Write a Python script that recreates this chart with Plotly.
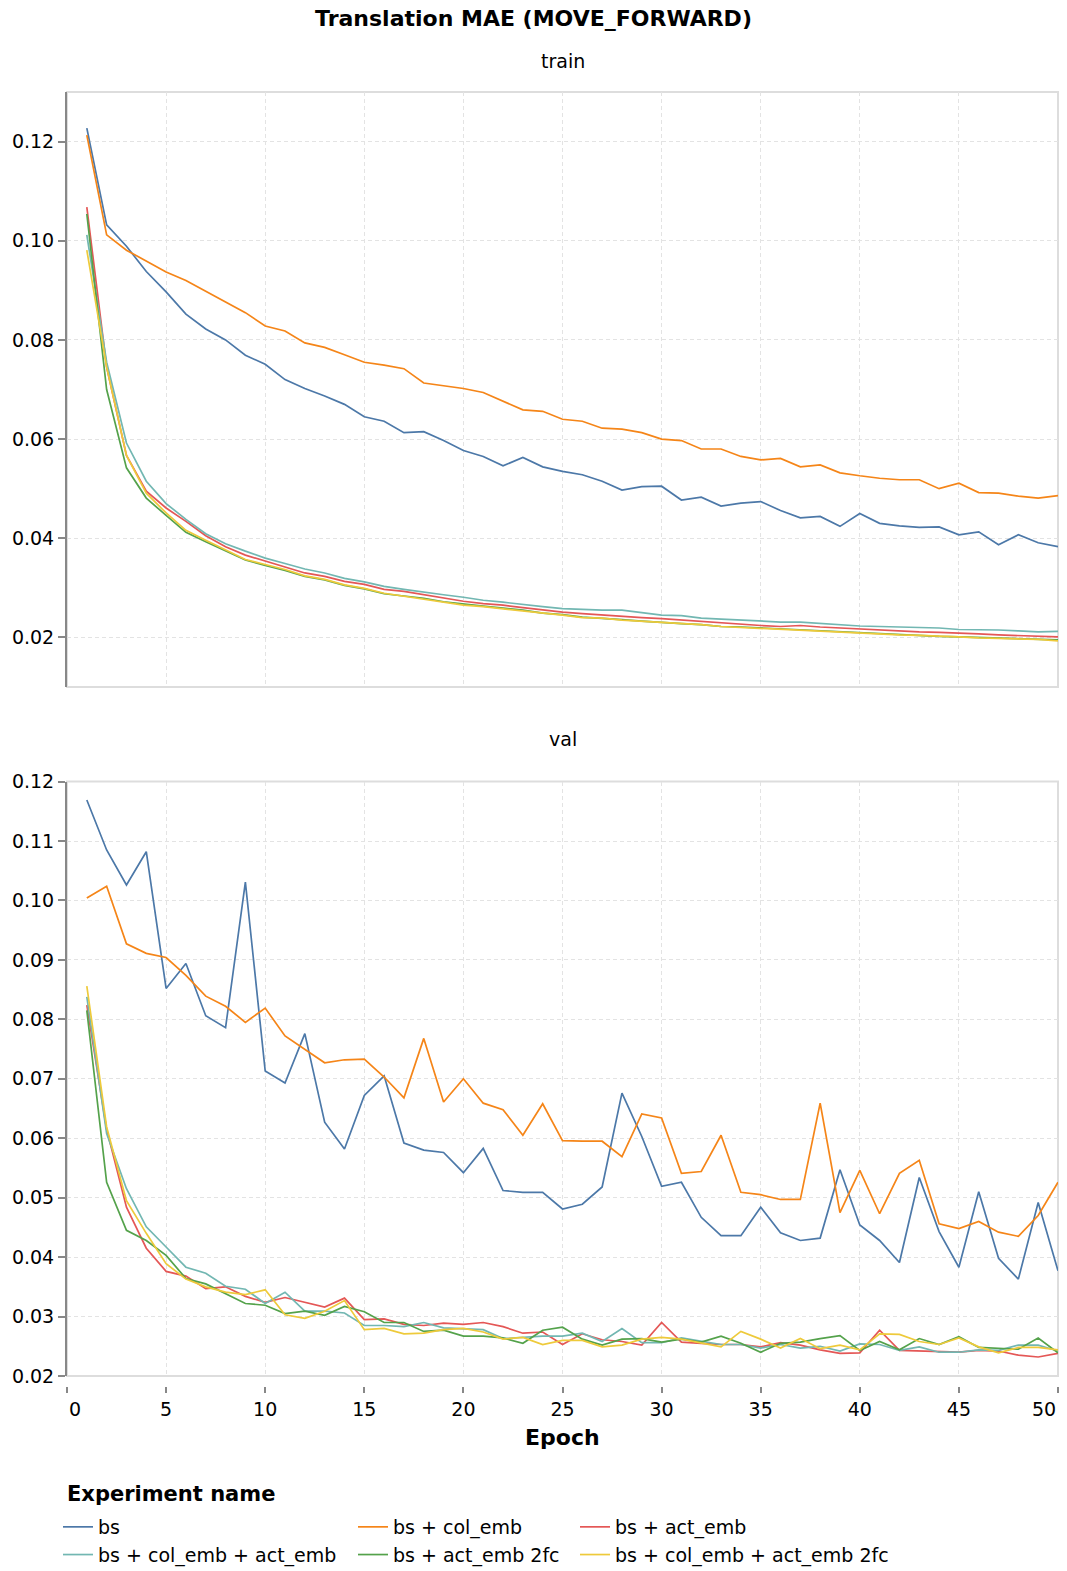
import plotly.graph_objects as go

# ---- data -------------------------------------------------------------
epochs = list(range(1, 51))

experiment_names = [
    "bs",
    "bs + col_emb",
    "bs + act_emb",
    "bs + col_emb + act_emb",
    "bs + act_emb 2fc",
    "bs + col_emb + act_emb 2fc",
]
colors = ["#4c78a8", "#f58518", "#e45756", "#72b7b2", "#54a24b", "#eeca3b"]

epoch_ticks = [0, 5, 10, 15, 20, 25, 30, 35, 40, 45, 50]

train_bs = [0.1227, 0.1032, 0.0989, 0.0938, 0.0897, 0.0852, 0.0822, 0.0800, 0.0769, 0.0751,
            0.0720, 0.0702, 0.0687, 0.0670, 0.0645, 0.0636, 0.0613, 0.0615, 0.0597, 0.0577,
            0.0565, 0.0546, 0.0563, 0.0544, 0.0535, 0.0528, 0.0515, 0.0497, 0.0504, 0.0505,
            0.0477, 0.0483, 0.0465, 0.0471, 0.0474, 0.0456, 0.0441, 0.0444, 0.0424, 0.0450,
            0.0430, 0.0425, 0.0422, 0.0423, 0.0407, 0.0413, 0.0387, 0.0407, 0.0391, 0.0383]
train_col_emb = [0.1213, 0.1012, 0.0981, 0.0959, 0.0937, 0.0920, 0.0898, 0.0877, 0.0855, 0.0828,
                 0.0818, 0.0794, 0.0785, 0.0770, 0.0755, 0.0749, 0.0742, 0.0713, 0.0708, 0.0702,
                 0.0694, 0.0676, 0.0659, 0.0656, 0.0640, 0.0636, 0.0622, 0.0620, 0.0613, 0.0600,
                 0.0597, 0.0580, 0.0580, 0.0565, 0.0558, 0.0561, 0.0544, 0.0548, 0.0532, 0.0526,
                 0.0521, 0.0518, 0.0518, 0.0500, 0.0511, 0.0492, 0.0491, 0.0485, 0.0481, 0.0486]
train_act_emb = [0.1068, 0.0745, 0.0567, 0.0495, 0.0461, 0.0434, 0.0405, 0.0383, 0.0366, 0.0354,
                 0.0342, 0.0330, 0.0323, 0.0313, 0.0307, 0.0297, 0.0293, 0.0286, 0.0279, 0.0273,
                 0.0268, 0.0265, 0.0260, 0.0255, 0.0251, 0.0248, 0.0245, 0.0242, 0.0240, 0.0238,
                 0.0235, 0.0232, 0.0230, 0.0227, 0.0224, 0.0222, 0.0224, 0.0221, 0.0219, 0.0216,
                 0.0215, 0.0213, 0.0211, 0.0210, 0.0209, 0.0207, 0.0205, 0.0204, 0.0203, 0.0201]
train_col_act = [0.1012, 0.0755, 0.0592, 0.0515, 0.0470, 0.0438, 0.0409, 0.0389, 0.0374, 0.0360,
                 0.0349, 0.0338, 0.0330, 0.0319, 0.0312, 0.0303, 0.0297, 0.0291, 0.0286, 0.0281,
                 0.0275, 0.0271, 0.0266, 0.0262, 0.0258, 0.0256, 0.0255, 0.0255, 0.0250, 0.0245,
                 0.0244, 0.0239, 0.0237, 0.0235, 0.0233, 0.0231, 0.0231, 0.0228, 0.0226, 0.0223,
                 0.0222, 0.0221, 0.0219, 0.0219, 0.0216, 0.0216, 0.0215, 0.0213, 0.0211, 0.0212]
train_act_2fc = [0.1054, 0.0700, 0.0542, 0.0481, 0.0446, 0.0412, 0.0393, 0.0375, 0.0356, 0.0345,
                 0.0335, 0.0323, 0.0316, 0.0305, 0.0298, 0.0288, 0.0283, 0.0279, 0.0272, 0.0267,
                 0.0263, 0.0259, 0.0255, 0.0249, 0.0246, 0.0241, 0.0239, 0.0236, 0.0233, 0.0230,
                 0.0228, 0.0226, 0.0222, 0.0221, 0.0219, 0.0217, 0.0215, 0.0214, 0.0212, 0.0210,
                 0.0208, 0.0206, 0.0203, 0.0202, 0.0201, 0.0200, 0.0198, 0.0197, 0.0196, 0.0195]
train_col_act_2fc = [0.0981, 0.0745, 0.0567, 0.0491, 0.0451, 0.0416, 0.0396, 0.0377, 0.0357, 0.0347,
                     0.0337, 0.0324, 0.0317, 0.0306, 0.0299, 0.0289, 0.0283, 0.0278, 0.0271, 0.0265,
                     0.0262, 0.0258, 0.0254, 0.0249, 0.0245, 0.0240, 0.0239, 0.0235, 0.0233, 0.0231,
                     0.0228, 0.0226, 0.0222, 0.0220, 0.0218, 0.0216, 0.0214, 0.0213, 0.0211, 0.0208,
                     0.0206, 0.0205, 0.0204, 0.0203, 0.0201, 0.0199, 0.0198, 0.0197, 0.0196, 0.0193]

val_bs = [0.1169, 0.1085, 0.1026, 0.1082, 0.0852, 0.0894, 0.0806, 0.0786, 0.1031, 0.0713,
          0.0693, 0.0776, 0.0627, 0.0582, 0.0672, 0.0705, 0.0592, 0.0580, 0.0576, 0.0542,
          0.0583, 0.0512, 0.0509, 0.0509, 0.0481, 0.0489, 0.0518, 0.0676, 0.0603, 0.0519,
          0.0526, 0.0467, 0.0436, 0.0436, 0.0484, 0.0441, 0.0428, 0.0432, 0.0547, 0.0454,
          0.0428, 0.0391, 0.0534, 0.0443, 0.0383, 0.0510, 0.0398, 0.0363, 0.0492, 0.0377]
val_col_emb = [0.1004, 0.1024, 0.0927, 0.0911, 0.0904, 0.0874, 0.0839, 0.0822, 0.0795, 0.0819,
               0.0772, 0.0749, 0.0727, 0.0732, 0.0733, 0.0703, 0.0668, 0.0768, 0.0661, 0.0700,
               0.0659, 0.0648, 0.0605, 0.0658, 0.0596, 0.0595, 0.0595, 0.0569, 0.0641, 0.0634,
               0.0541, 0.0544, 0.0605, 0.0509, 0.0505, 0.0497, 0.0497, 0.0659, 0.0475, 0.0546,
               0.0473, 0.0541, 0.0563, 0.0456, 0.0448, 0.0460, 0.0442, 0.0435, 0.0470, 0.0526]
val_act_emb = [0.0824, 0.0615, 0.0484, 0.0415, 0.0376, 0.0368, 0.0347, 0.0350, 0.0334, 0.0324,
               0.0332, 0.0324, 0.0316, 0.0331, 0.0295, 0.0296, 0.0287, 0.0285, 0.0289, 0.0287,
               0.0290, 0.0283, 0.0272, 0.0274, 0.0253, 0.0271, 0.0261, 0.0258, 0.0252, 0.0290,
               0.0257, 0.0255, 0.0253, 0.0253, 0.0249, 0.0256, 0.0252, 0.0244, 0.0238, 0.0239,
               0.0277, 0.0243, 0.0242, 0.0242, 0.0240, 0.0243, 0.0242, 0.0235, 0.0232, 0.0238]
val_col_act = [0.0838, 0.0608, 0.0515, 0.0451, 0.0417, 0.0383, 0.0373, 0.0351, 0.0346, 0.0322,
               0.0341, 0.0309, 0.0309, 0.0306, 0.0285, 0.0285, 0.0283, 0.0290, 0.0281, 0.0280,
               0.0278, 0.0263, 0.0265, 0.0267, 0.0267, 0.0272, 0.0258, 0.0280, 0.0256, 0.0256,
               0.0264, 0.0258, 0.0253, 0.0253, 0.0247, 0.0253, 0.0247, 0.0250, 0.0242, 0.0254,
               0.0253, 0.0243, 0.0249, 0.0240, 0.0240, 0.0244, 0.0243, 0.0252, 0.0252, 0.0242]
val_act_2fc = [0.0815, 0.0526, 0.0445, 0.0428, 0.0403, 0.0364, 0.0355, 0.0338, 0.0322, 0.0319,
               0.0305, 0.0309, 0.0302, 0.0317, 0.0308, 0.0290, 0.0290, 0.0275, 0.0277, 0.0267,
               0.0267, 0.0264, 0.0255, 0.0277, 0.0282, 0.0262, 0.0252, 0.0262, 0.0263, 0.0257,
               0.0262, 0.0257, 0.0267, 0.0255, 0.0240, 0.0255, 0.0257, 0.0263, 0.0268, 0.0243,
               0.0258, 0.0244, 0.0263, 0.0253, 0.0266, 0.0248, 0.0246, 0.0245, 0.0264, 0.0239]
val_col_act_2fc = [0.0856, 0.0619, 0.0495, 0.0440, 0.0389, 0.0363, 0.0350, 0.0341, 0.0337, 0.0345,
                   0.0303, 0.0297, 0.0309, 0.0327, 0.0278, 0.0280, 0.0271, 0.0272, 0.0278, 0.0280,
                   0.0274, 0.0262, 0.0265, 0.0253, 0.0260, 0.0260, 0.0249, 0.0252, 0.0262, 0.0265,
                   0.0262, 0.0256, 0.0249, 0.0275, 0.0262, 0.0247, 0.0263, 0.0246, 0.0252, 0.0244,
                   0.0271, 0.0270, 0.0258, 0.0253, 0.0264, 0.0249, 0.0239, 0.0248, 0.0248, 0.0244]

train_series = [train_bs, train_col_emb, train_act_emb, train_col_act, train_act_2fc, train_col_act_2fc]
val_series = [val_bs, val_col_emb, val_act_emb, val_col_act, val_act_2fc, val_col_act_2fc]

# which of the three legend columns each experiment is listed in
legend_column = ["legend", "legend2", "legend3", "legend", "legend2", "legend3"]

FONT = "DejaVu Sans"
GRID = "#e3e3e3"
AXIS = "#888888"
FRAME = "#dddddd"

fig = go.Figure()

for name, color, ys, leg in zip(experiment_names, colors, train_series, legend_column):
    fig.add_trace(go.Scatter(
        x=epochs, y=ys, mode="lines", name=name,
        line=dict(color=color, width=1.7),
        xaxis="x", yaxis="y", legend=leg, showlegend=True,
    ))

for name, color, ys in zip(experiment_names, colors, val_series):
    fig.add_trace(go.Scatter(
        x=epochs, y=ys, mode="lines", name=name,
        line=dict(color=color, width=1.7),
        xaxis="x2", yaxis="y2", showlegend=False,
    ))

tickfont = dict(family=FONT, size=19, color="#000000")

common_x = dict(
    range=[0, 50], tickvals=epoch_ticks,
    showgrid=True, gridcolor=GRID, griddash="4px,3px", gridwidth=1,
    zeroline=False, showline=False,
)
common_y = dict(
    showgrid=True, gridcolor=GRID, griddash="4px,3px", gridwidth=1,
    zeroline=False, showline=True, linecolor=AXIS, linewidth=2,
    ticks="outside", ticklen=7, tickwidth=2, tickcolor=AXIS,
    tickfont=tickfont, tickformat=".2f",
)

# figure pixels -> paper fractions (plot area spans x 67..1058, y 92..1386)
L, R, T, B = 67, 9, 92, 185
W, H = 1067, 1571
PW, PH = W - L - R, H - T - B


def py(pixel_y):
    return (H - B - pixel_y) / PH


def px(pixel_x):
    return (pixel_x - L) / PW


# inner epoch labels sit centred under their ticks; the two end labels are
# kept flush with the plot edges
inner_text = ["" if t in (epoch_ticks[0], epoch_ticks[-1]) else str(t) for t in epoch_ticks]

fig.update_layout(
    width=W, height=H,
    margin=dict(l=L, r=R, t=T, b=B, autoexpand=False),
    paper_bgcolor="white", plot_bgcolor="white",
    font=dict(family=FONT, size=19, color="#000000"),
    title=dict(
        text="Translation MAE (MOVE_FORWARD)",
        font=dict(family=FONT, size=22, weight="bold"),
        x=0.5, xref="container", xanchor="center",
        y=1 - 18 / H, yref="container", yanchor="middle",
    ),
    xaxis=dict(common_x, anchor="y", domain=[0, 1], showticklabels=False, ticks=""),
    yaxis=dict(common_y, anchor="x", domain=[py(687), 1.0], range=[0.01, 0.13],
               tickvals=[0.02, 0.04, 0.06, 0.08, 0.10, 0.12]),
    xaxis2=dict(common_x, anchor="free", position=0, domain=[0, 1],
                ticktext=inner_text,
                ticks="outside", ticklen=6, tickwidth=2, tickcolor=AXIS,
                tickfont=tickfont),
    yaxis2=dict(common_y, anchor="x2", domain=[py(1376), py(781.6)], range=[0.02, 0.12],
                dtick=0.01, tick0=0.02),
    hovermode=False,
)

legend_style = dict(
    orientation="v", xanchor="left", yanchor="top",
    bgcolor="rgba(0,0,0,0)", borderwidth=0,
    font=dict(family=FONT, size=19, color="#000000"),
    itemwidth=30, traceorder="normal",
)
legend_top = py(1508)
fig.update_layout(
    legend=dict(legend_style, x=px(58), y=legend_top),
    legend2=dict(legend_style, x=px(353), y=legend_top),
    legend3=dict(legend_style, x=px(575), y=legend_top),
)

# light frame around each panel
for xr, yr in (("x domain", "y domain"), ("x2 domain", "y2 domain")):
    fig.add_shape(type="rect", xref=xr, yref=yr, x0=0, x1=1, y0=0, y1=1,
                  line=dict(color=FRAME, width=2), layer="below")

label_y = py(1409)
annotations = [
    dict(text="train", x=0.5, y=py(61), xref="paper", yref="paper",
         xanchor="center", yanchor="middle", showarrow=False,
         font=dict(family=FONT, size=19)),
    dict(text="val", x=0.5, y=py(739), xref="paper", yref="paper",
         xanchor="center", yanchor="middle", showarrow=False,
         font=dict(family=FONT, size=19)),
    dict(text=str(epoch_ticks[0]), x=epoch_ticks[0], xref="x2", y=label_y, yref="paper",
         xanchor="left", yanchor="middle", showarrow=False,
         font=tickfont),
    dict(text=str(epoch_ticks[-1]), x=epoch_ticks[-1], xref="x2", y=label_y, yref="paper",
         xanchor="right", yanchor="middle", showarrow=False,
         font=tickfont),
    dict(text="Epoch", x=0.5, y=py(1437), xref="paper", yref="paper",
         xanchor="center", yanchor="middle", showarrow=False,
         font=dict(family=FONT, size=22, weight="bold")),
    dict(text="Experiment name", x=0, y=py(1494), xref="paper", yref="paper",
         xanchor="left", yanchor="middle", showarrow=False, xshift=-2,
         font=dict(family=FONT, size=21, weight="bold")),
]
fig.update_layout(annotations=annotations)

fig.write_html("out.html")
